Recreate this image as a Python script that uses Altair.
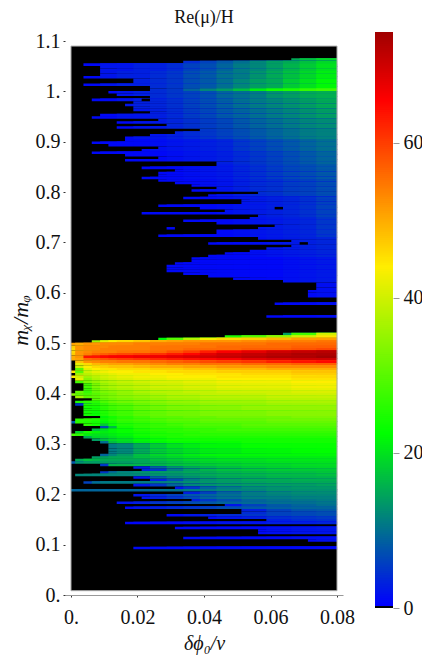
import altair as alt
import pandas as pd
import numpy as np

alt.data_transformers.disable_max_rows()

FONT = "Liberation Serif"

# Grid columns that start each value cell (one column = 0.0025 in delta phi0 / v)
upper_cols = [0, 4, 6, 8, 10, 12, 14, 16, 18, 20, 22, 24, 26, 28, 30]
lower_cols = [0, 1, 2, 3, 4, 5, 6, 8, 10, 12, 14, 16, 18, 21, 24, 27, 30]

# First filled column of every row, top to bottom (32 = nothing filled)
row_onsets = [
    27, 14, 2, 4, 4, 4, 4, 2, 8, 8, 2, 10, 10, 5, 6, 10, 3, 8, 7, 8,
    8, 10, 4, 3, 11, 6, 12, 6, 16, 13, 10, 7, 7, 3, 5, 11, 9, 3, 7, 11,
    7, 18, 18, 9, 13, 11, 11, 9, 11, 13, 15, 18, 15, 23, 17, 14, 21, 21, 11, 16,
    19, 9, 23, 22, 14, 18, 25, 23, 18, 18, 11, 23, 27, 17, 27, 24, 22, 19, 17, 15,
    15, 13, 12, 12, 12, 14, 17, 20, 26, 30, 30, 30, 29, 29, 29, 32, 32, 25, 32, 32,
    32, 32, 24, 32, 32, 32, 32, 32, 32, 26, 19, 11, 3, 0, 0, 0, 0, 0, 0, 0,
    1, 1, 1, 1, 0, 1, 0, 1, 1, 2, 2, 2, 1, 0, 1, 3, 1, 1, 2, 2,
    2, 2, 4, 1, 0, 2, 4, 3, 1, 0, 2, 3, 4, 5, 5, 5, 5, 4, 3, 1,
    0, 4, 8, 9, 4, 1, 8, 10, 2, 8, 13, 0, 14, 8, 9, 15, 6, 19, 7, 21,
    21, 12, 17, 24, 7, 32, 13, 23, 23, 32, 14, 29, 32, 32, 8, 32,
]

# Upper block: first row of each band, and the band's value in each upper column
upper_rows = [0, 2, 5, 8, 12, 13, 16, 20, 24, 28, 32, 37, 42, 48, 55, 63, 71, 79, 89]
upper_vals = [
    [1, 1, 1, 2, 2, 3, 4, 6, 8, 10, 12, 14, 15, 17, 19],
    [1, 2, 2, 3, 3, 4, 6, 7, 9, 11, 12, 14, 16, 18, 20],
    [1, 2, 3, 3, 4, 5, 7, 8, 10, 11, 13, 15, 17, 19, 21],
    [1, 2, 3, 3, 4, 5, 7, 8, 10, 12, 14, 15, 18, 20, 22],
    [1, 2, 2, 3, 4, 5, 9, 12, 14, 17, 21, 24, 25, 27, 28],
    [1, 1, 2, 3, 4, 5, 6, 7, 9, 10, 11, 13, 14, 15, 15.5],
    [1, 1, 2, 3, 3.5, 4.5, 6, 7, 8.5, 10, 11, 12, 13, 14, 15],
    [1, 1, 2, 2, 3, 4, 5.5, 6.5, 8, 9, 10, 11, 12, 13, 14],
    [1, 1, 1, 2, 2.5, 3.5, 4.5, 5.5, 6.5, 8, 9, 10, 11, 12, 12.5],
    [1, 1, 1, 2, 2, 3, 4, 5, 6, 7, 8, 9, 10, 11, 11.5],
    [1, 1, 1, 1, 1.5, 2, 2.5, 3, 3.5, 5, 6, 7, 8, 9, 10],
    [1, 1, 1, 1, 1, 1.5, 2, 2.5, 3, 4, 5, 6, 7, 8, 9],
    [1, 1, 1, 1, 1, 1, 1.5, 2, 2.5, 3.5, 4.5, 5.5, 6.5, 7, 8],
    [1, 1, 1, 1, 1, 1, 1, 1.5, 2, 3, 4, 4.5, 5.5, 6, 7],
    [1, 1, 1, 1, 1, 1, 1, 1, 1.5, 2, 2.5, 3, 3.5, 4.5, 6],
    [1, 1, 1, 1, 1, 1, 1, 1, 1, 1.5, 2, 2.5, 3, 3.5, 5],
    [1, 1, 1, 1, 1, 1, 1, 1, 1, 1, 1.5, 2, 2.5, 3, 3.5],
    [1, 1, 1, 1, 1, 1, 1, 1, 1, 1, 1, 1, 1.5, 2, 2.5],
    [1, 1, 1, 1, 1, 1, 1, 1, 1, 1, 1, 1, 1, 1, 1.5],
]

# Lower block: first row of each band, and the band's value in each lower column
lower_rows = [
    109, 110, 111, 112, 113, 114, 115, 116, 117, 118, 119, 120, 121, 122, 123, 124,
    125, 126, 127, 128, 129, 131, 132, 133, 134, 135, 136, 137, 138, 140, 142, 143,
    144, 145, 146, 147, 148, 149, 150, 151, 152, 153, 155, 157, 158, 159, 160, 161,
    162, 163, 164, 165, 166, 167, 168, 169, 170, 171, 172, 173, 174, 175, 176, 177,
    178, 179, 180, 181, 182, 183, 184, 185, 186, 187, 189, 190, 191, 192, 194, 195,
]
lower_vals = [
    [0, 0, 0, 0, 0, 0, 0, 0, 0, 0, 0, 0, 0, 0, 14, 28, 40],
    [0, 0, 0, 0, 0, 0, 0, 0, 0, 0, 0, 0, 25, 30, 35, 40, 45],
    [0, 0, 0, 0, 0, 0, 0, 0, 22, 30, 38, 43, 46, 47, 49, 51, 51],
    [0, 0, 0, 36, 42, 44, 46, 48, 50, 51, 52, 52, 52, 53, 54, 54, 55],
    [51, 50, 52, 52, 53, 53, 53, 54, 54, 54, 54, 55, 55, 55, 56, 56, 56],
    [47, 52, 53, 53, 53, 54, 54, 54, 55, 55, 55, 55, 56, 56, 56, 57, 57],
    [46, 52, 53, 53, 54, 54, 54, 54, 55, 55, 56, 56, 56, 57, 57, 58, 59],
    [46, 52, 53, 54, 54, 54, 55, 55, 56, 58, 60, 63, 66, 68, 70, 71, 72],
    [47, 52, 54, 56, 57, 58, 59, 60, 61, 63, 65, 68, 70, 71, 72, 73, 73],
    [50, 52, 64, 64, 65, 66, 66, 67, 67, 68, 69, 70, 71, 72, 73, 73, 74],
    [50, 51, 56, 57, 58, 59, 60, 61, 62, 63, 64, 65, 66, 68, 69, 70, 70],
    [0, 48, 52, 53, 54, 54, 55, 55, 56, 57, 58, 59, 60, 61, 63, 64, 65],
    [0, 42, 46, 49, 50, 51, 51, 52, 53, 54, 54, 55, 55, 56, 56, 57, 57],
    [0, 40, 44, 46, 47, 48, 48, 49, 50, 50, 51, 51, 52, 52, 53, 53, 53],
    [0, 30, 42, 44, 45, 45, 46, 46, 47, 47, 48, 48, 49, 49, 50, 50, 50],
    [45, 30, 40, 42, 43, 44, 44, 45, 45, 46, 46, 46, 47, 47, 47, 48, 48],
    [0, 36, 38, 40, 41, 42, 43, 43, 44, 44, 45, 45, 45, 46, 46, 47, 47],
    [44, 40, 36, 38, 40, 41, 42, 43, 43, 44, 44, 44, 45, 45, 45, 46, 46],
    [0, 42, 34, 37, 39, 40, 41, 42, 42, 43, 43, 43, 44, 44, 44, 45, 45],
    [0, 28, 33, 35, 37, 38, 39, 40, 41, 41, 42, 42, 43, 43, 43, 44, 44],
    [0, 0, 28, 33, 36, 37, 38, 39, 40, 40, 41, 41, 42, 42, 42, 43, 43],
    [0, 0, 27, 32, 35, 36, 37, 38, 39, 39, 40, 40, 41, 41, 41, 42, 42],
    [0, 31, 27, 31, 33, 34, 35, 37, 38, 38, 39, 39, 40, 40, 40, 41, 41],
    [34, 30, 28, 30, 32, 33, 35, 36, 37, 38, 38, 39, 39, 39, 40, 40, 40],
    [0, 36, 30, 30, 32, 33, 34, 35, 36, 37, 37, 38, 38, 38, 39, 39, 39],
    [0, 0, 0, 30, 31, 32, 33, 34, 35, 36, 36, 37, 37, 37, 38, 38, 38],
    [0, 25, 26, 26, 29, 31, 32, 33, 34, 35, 35, 36, 36, 36, 37, 37, 37],
    [0, 5, 25, 25, 27, 29, 30, 32, 33, 34, 34, 35, 35, 35, 36, 36, 36],
    [0, 0, 24, 24, 26, 28, 29, 31, 32, 33, 33, 34, 34, 35, 35, 35, 35],
    [0, 26, 24, 23, 25, 27, 28, 30, 31, 32, 32, 33, 33, 33, 34, 34, 34],
    [0, 0, 0, 0, 22, 24, 26, 28, 30, 30, 31, 31, 32, 32, 32, 33, 33],
    [0, 26, 26, 25, 23, 25, 27, 28, 29, 30, 30, 31, 31, 31, 32, 32, 32],
    [8, 26, 25, 24, 22, 24, 26, 27, 28, 29, 29, 30, 30, 30, 31, 31, 31],
    [0, 0, 26, 24, 18, 23, 25, 26, 27, 28, 29, 29, 29, 30, 30, 30, 30],
    [0, 0, 0, 0, 7, 16, 24, 26, 27, 27, 28, 28, 28, 29, 29, 29, 29],
    [0, 0, 0, 17, 20, 22, 23, 25, 26, 26, 27, 27, 28, 28, 28, 28, 28],
    [0, 19, 24, 22, 21, 22, 23, 24, 25, 26, 26, 27, 27, 27, 27, 27, 27],
    [28, 26, 21, 20, 20, 21, 22, 24, 25, 25, 26, 26, 26, 26, 26, 26, 26],
    [0, 0, 15, 19, 19, 20, 21, 23, 24, 25, 25, 25, 25, 25, 25, 25, 25],
    [0, 0, 0, 14, 17, 19, 20, 22, 23, 24, 24, 24, 24, 24, 24, 24, 24],
    [0, 0, 0, 0, 10, 17, 19, 21, 22, 23, 23, 23, 23, 24, 24, 24, 24],
    [0, 0, 0, 0, 0, 11, 12, 15, 18, 20, 21, 22, 22, 23, 23, 23, 23],
    [0, 0, 0, 0, 0, 11, 12, 15, 18, 19, 20, 21, 21, 22, 22, 22.5, 22.5],
    [0, 0, 0, 0, 9, 12, 14, 17, 19, 20, 21, 22, 22, 22, 22, 22, 22],
    [0, 0, 0, 14, 14, 15, 15, 17, 18, 19, 20, 20.5, 21, 21, 21, 21, 21],
    [0, 15, 17, 16, 15, 15, 15, 15, 17, 18, 19, 19.5, 20, 20, 20.5, 20.5, 20.5],
    [8, 13, 14, 14, 14, 14, 14, 15, 16, 17, 18, 19, 19, 19.5, 20, 20, 20],
    [0, 0, 0, 0, 5, 16, 16, 16, 16, 17, 17.5, 18, 18.5, 19, 19, 19.5, 19.5],
    [0, 0, 0, 0, 0, 0, 0, 3, 9, 13, 15, 16, 17, 18, 18.5, 19, 19],
    [0, 0, 0, 0, 0, 0, 0, 3, 5, 11, 14, 16, 17, 17.5, 18, 18, 18],
    [0, 0, 0, 0, 5, 10, 12, 13, 14, 14, 15, 15, 16, 16.5, 17, 17, 17.5],
    [0, 12, 12, 12, 12, 12, 12, 12, 13, 13, 14, 15, 15.5, 16, 16.5, 16.5, 17],
    [0, 0, 0, 0, 0, 0, 0, 2, 9, 12, 13, 14, 15, 15, 16, 16, 16],
    [0, 0, 0, 0, 0, 0, 0, 0, 3, 7, 11, 13, 14, 15, 15, 15.5, 15.5],
    [0, 0, 6, 10, 11, 11, 11, 11, 11.5, 12, 13, 13.5, 14, 14.5, 15, 15, 15],
    [0, 0, 0, 0, 0, 0, 0, 2, 5, 9, 12, 13, 13.5, 14, 14, 14, 14.5],
    [0, 0, 0, 0, 0, 0, 0, 0, 0, 2, 5, 9, 11, 12.5, 13, 13.5, 13.5],
    [9, 9, 9, 9, 9, 9, 9, 9, 10, 10, 11, 11, 12, 12, 13, 13, 13],
    [0, 0, 0, 0, 0, 0, 0, 0, 0, 0, 3, 6, 9, 11, 12, 12.5, 12.5],
    [0, 0, 0, 0, 0, 0, 0, 2, 4, 6, 8, 9, 10, 11, 11.5, 12, 12],
    [0, 0, 0, 0, 0, 0, 0, 2, 3, 5, 7, 9, 10, 11, 11, 11.5, 11.5],
    [0, 0, 0, 0, 0, 0, 0, 0, 0, 0, 3, 5, 7, 9, 10, 10.5, 11],
    [0, 0, 0, 0, 0, 0, 2, 3, 5, 6, 7, 8, 9, 9.5, 10, 10, 10.5],
    [0, 0, 0, 0, 0, 0, 0, 0, 0, 0, 0, 0, 2, 6, 8, 9, 10],
    [0, 0, 0, 0, 0, 0, 1, 2, 3, 4, 5, 6, 7, 8, 8.5, 9, 9],
    [0, 0, 0, 0, 0, 0, 0, 0, 0, 0, 0, 0, 0, 3, 6, 7.5, 8],
    [0, 0, 0, 0, 0, 0, 0, 0, 0, 0, 0, 0, 0, 4, 6, 6.5, 7],
    [0, 0, 0, 0, 0, 0, 0, 0, 0, 1, 2, 3, 4, 5, 6, 6.5, 7],
    [0, 0, 0, 0, 0, 0, 0, 0, 0, 0, 0, 1, 2, 3, 4.5, 5, 5.5],
    [0, 0, 0, 0, 0, 0, 0, 0, 0, 0, 0, 0, 0, 0, 3, 4, 4.5],
    [0, 0, 0, 0, 0, 0, 0.7, 0.7, 1, 1, 1.5, 1.5, 2, 2, 3, 3, 3.5],
    [0, 0, 0, 0, 0, 0, 0, 0, 0, 0, 0, 0, 0, 0, 0, 0, 0],
    [0, 0, 0, 0, 0, 0, 0, 0, 0, 1, 1, 1, 1, 1, 1.5, 2, 2.5],
    [0, 0, 0, 0, 0, 0, 0, 0, 0, 0, 0, 0, 0, 1, 1.5, 2, 2],
    [0, 0, 0, 0, 0, 0, 0, 0, 0, 0, 0, 0, 0, 0, 0, 0, 0],
    [0, 0, 0, 0, 0, 0, 0, 0, 0, 0, 1, 1, 1, 1, 1, 1.5, 1.5],
    [0, 0, 0, 0, 0, 0, 0, 0, 0, 0, 0, 0, 0, 0, 0, 1, 1.5],
    [0, 0, 0, 0, 0, 0, 0, 0, 0, 0, 0, 0, 0, 0, 0, 0, 0],
    [0, 0, 0, 0, 0, 0, 0, 1, 1, 1, 1, 1, 1, 1, 1, 1, 1],
    [0, 0, 0, 0, 0, 0, 0, 0, 0, 0, 0, 0, 0, 0, 0, 0, 0],
]

# Isolated cells inside otherwise continuous rows
patch_rows = [16, 59, 73, 67]
patch_cols = [9, 25, 28, 12]
patch_vals = [0, 0, 0, 1]

y_ticks = [0, 0.1, 0.2, 0.3, 0.4, 0.5, 0.6, 0.7, 0.8, 0.9, 1, 1.1]
x_ticks = [0, 0.02, 0.04, 0.06, 0.08]
bar_ticks = [0, 20, 40, 60]

color_domain = [0, 0.29, 0.3, 22.5, 44, 65.5, 74.3]
color_range = ["#000000", "#000000", "#0000ff", "#00ff00", "#ffee00", "#ff0000", "#a00000"]

Y_TOP = 1.09
Y_FIRST = 1.0657
Y_BOTTOM = 0.0086
ROW = 0.005
X_MAX = 0.08


def col_x(c):
    return 0.0 if c == 0 else min(0.0025 * c - 0.00125, X_MAX)


def row_top(n):
    return Y_FIRST - ROW * n


def band_for(n):
    if n < lower_rows[0]:
        rows, vals, cols = upper_rows, upper_vals, upper_cols
    else:
        rows, vals, cols = lower_rows, lower_vals, lower_cols
    idx = 0
    for i, s in enumerate(rows):
        if s <= n:
            idx = i
    return cols, vals[idx]


assert len(lower_rows) == len(lower_vals) and len(upper_rows) == len(upper_vals)
assert all(len(p) == len(lower_cols) for p in lower_vals)
assert all(len(p) == len(upper_cols) for p in upper_vals)

cells = [dict(x0=0.0, x1=X_MAX, y0=Y_TOP, y1=Y_FIRST - 0.002, v=0)]
for n, onset in enumerate(row_onsets):
    top, bot = row_top(n), row_top(n + 1) - 0.002
    cells.append(dict(x0=0.0, x1=X_MAX, y0=top, y1=bot, v=0))
    if onset >= 32:
        continue
    cols, vals = band_for(n)
    for i, s in enumerate(cols):
        nxt = cols[i + 1] if i + 1 < len(cols) else 33
        if nxt <= onset:
            continue
        cells.append(dict(x0=col_x(max(s, onset)), x1=X_MAX, y0=top, y1=bot, v=vals[i]))
cells.append(dict(x0=0.0, x1=X_MAX, y0=row_top(len(row_onsets)), y1=Y_BOTTOM, v=0))
for n, c, v in zip(patch_rows, patch_cols, patch_vals):
    cells.append(dict(x0=col_x(c), x1=col_x(c + 1), y0=row_top(n), y1=row_top(n + 1), v=v))
df = pd.DataFrame(cells)

bar_edges = np.arange(0, 74.3, 0.25)
bar_df = pd.DataFrame({"lo": bar_edges, "hi": np.minimum(bar_edges + 0.5, 74.3), "v": bar_edges + 0.125})

x_scale = alt.Scale(domain=[-0.0018, 0.0818], nice=False, zero=False)
y_scale = alt.Scale(domain=[-0.0258, 1.118], nice=False, zero=False)
color_scale = alt.Scale(domain=color_domain, range=color_range, interpolate="rgb", clamp=True)

axis_common = dict(
    labelFont=FONT, labelFontSize=20, labelColor="#111111", titleFont=FONT,
    titleColor="#111111", titleFontWeight="normal", titleFontStyle="italic",
    grid=False, tickColor="#333333",
)

x_axis = alt.Axis(
    values=x_ticks, title="δϕ₀/v", titleFontSize=20, offset=-13, tickSize=2, domainColor="#999999",
    labelExpr="datum.value == 0 ? '0.' : format(datum.value, '.2f')", labelPadding=10,
    labelFlush=False, labelOverlap=False, titlePadding=6, **axis_common,
)
y_axis = alt.Axis(
    values=y_ticks, title="mᵪ/mᵩ", titleFontSize=22, domain=False, tickSize=2,
    labelExpr="datum.value == 0 ? '0.' : datum.value == 1 ? '1.' : format(datum.value, '.1f')",
    labelPadding=3, labelFlush=False, labelOverlap=False, titlePadding=3, **axis_common,
)
bar_axis = alt.Axis(
    values=bar_ticks, title=None, orient="right", offset=50, domain=False, tickSize=6,
    tickColor="#999999", labelPadding=4, labelFont=FONT, labelFontSize=20, labelColor="#111111",
    grid=False, labelFlush=False,
)

heat = alt.Chart(df).mark_rect().encode(
    x=alt.X("x0:Q", scale=x_scale, axis=x_axis),
    x2="x1:Q",
    y=alt.Y("y0:Q", scale=y_scale, axis=y_axis),
    y2="y1:Q",
    color=alt.Color("v:Q", scale=color_scale, legend=None),
)

frame = alt.Chart(pd.DataFrame({"x0": [0.0], "x1": [X_MAX], "y0": [Y_TOP], "y1": [Y_BOTTOM]})).mark_rect(
    fillOpacity=0, stroke="#aaaaaa", strokeWidth=1
).encode(x=alt.X("x0:Q", scale=x_scale, axis=x_axis), x2="x1:Q",
         y=alt.Y("y0:Q", scale=y_scale, axis=None), y2="y1:Q")

bar = alt.Chart(bar_df).mark_rect().encode(
    x=alt.value(310), x2=alt.value(328),
    y=alt.Y("lo:Q", scale=alt.Scale(domain=[0, 74.3], nice=False, zero=False), axis=bar_axis),
    y2="hi:Q",
    color=alt.Color("v:Q", scale=color_scale, legend=None),
)

chart = alt.layer(heat, frame, bar).resolve_scale(y="independent").properties(
    width=278, height=576,
    padding={"left": 57, "top": 24, "right": 79, "bottom": 52},
    autosize=alt.AutoSizeParams(type="none"),
    title=alt.TitleParams(
        text="Re(μ)/H", font=FONT, fontSize=18, fontWeight="normal", color="#111111",
        anchor="middle", offset=4,
    ),
).configure_view(stroke=None)

chart.save("out.html", embed_options={"renderer": "svg", "actions": False})
